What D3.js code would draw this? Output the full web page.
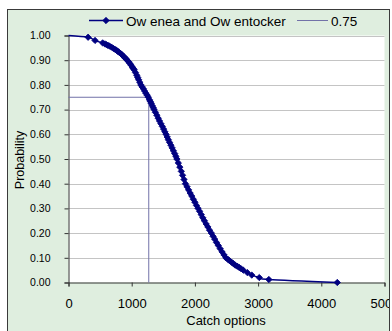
<!DOCTYPE html>
<html><head><meta charset="utf-8">
<script src="https://cdn.jsdelivr.net/npm/d3@7"></script>
<style>
html,body{margin:0;padding:0;background:#fff;}
svg{display:block;font-family:"Liberation Sans",Arial,sans-serif;}
</style></head>
<body>
<svg id="c" width="392" height="331"></svg>
<script>
// Data
const seriesName = "Ow enea and Ow entocker";
const refName = "0.75";
const catchOptions = [0,310,420,540,575,600,625,650,680,709,735,760,780,805,830,850,875,900,915,930,950,970,990,1010,1025,1040,1060,1080,1095,1110,1130,1145,1165,1185,1205,1225,1245,1263,1280,1295,1310,1325,1340,1355,1375,1398,1420,1440,1462,1485,1505,1525,1543,1562,1580,1600,1620,1640,1660,1680,1698,1715,1738,1762,1785,1805,1828,1850,1875,1900,1925,1950,1975,2000,2025,2050,2075,2100,2125,2150,2178,2205,2232,2260,2288,2315,2342,2370,2400,2430,2460,2490,2520,2550,2580,2610,2640,2670,2700,2730,2766,2830,2900,3019,3170,4253];
const probability = [1.000,0.993,0.980,0.970,0.966,0.963,0.960,0.957,0.953,0.948,0.944,0.940,0.936,0.931,0.926,0.921,0.915,0.908,0.904,0.900,0.894,0.887,0.880,0.872,0.866,0.861,0.850,0.839,0.830,0.821,0.810,0.800,0.792,0.784,0.775,0.766,0.758,0.750,0.740,0.733,0.725,0.716,0.708,0.700,0.689,0.677,0.665,0.654,0.643,0.632,0.621,0.610,0.600,0.589,0.578,0.567,0.556,0.545,0.533,0.522,0.511,0.500,0.484,0.467,0.450,0.434,0.417,0.400,0.388,0.375,0.362,0.350,0.337,0.325,0.312,0.300,0.288,0.275,0.262,0.250,0.237,0.225,0.212,0.200,0.187,0.175,0.162,0.150,0.137,0.124,0.112,0.100,0.094,0.088,0.082,0.076,0.070,0.066,0.061,0.056,0.050,0.040,0.030,0.020,0.012,0.000];
const refX = [0,1270,1270];
const refY = [0.75,0.75,0];
const xTicks = [0,1000,2000,3000,4000,5000];
const yTicks = [0,0.1,0.2,0.3,0.4,0.5,0.6,0.7,0.8,0.9,1.0];

const svg = d3.select("#c");
const navy = "#000080";
const refColor = "#7272a8";

// frame
svg.append("defs").append("clipPath").attr("id","fr")
  .append("rect").attr("x",8).attr("y",10).attr("width",381).attr("height",330);
svg.append("rect").attr("x",7.5).attr("y",9.5).attr("width",382).attr("height",330)
  .attr("fill","#dfeedf").attr("stroke","#3a3a3a").attr("stroke-width",1);

const x = d3.scaleLinear().domain([0,5000]).range([68.5,384.5]);
const y = d3.scaleLinear().domain([0,1]).range([282.5,35.5]);

// plot area
svg.append("rect").attr("x",x(0)).attr("y",y(1)).attr("width",x(5000)-x(0)).attr("height",y(0)-y(1)).attr("fill","#fff");

// gridlines
svg.append("g").selectAll("line").data(yTicks.filter(d=>d>0)).join("line")
  .attr("x1",x(0)).attr("x2",x(5000)).attr("y1",d=>Math.round(y(d))+0.5).attr("y2",d=>Math.round(y(d))+0.5)
  .attr("stroke","#c4c4c4").attr("stroke-width",1);

const g = svg.append("g").attr("clip-path","url(#fr)");

// y axis
const ya = g.append("g").attr("transform",`translate(${x(0)},0)`)
  .call(d3.axisLeft(y).tickValues(yTicks).tickFormat(d3.format(".2f")).tickSize(4).tickPadding(14));
ya.select(".domain").attr("stroke","#333");
ya.selectAll(".tick line").attr("stroke","#333");
ya.selectAll("text").attr("font-size","10.5px").attr("fill","#000").attr("font-family","Liberation Sans, Arial, sans-serif");

// x axis
const xa = g.append("g").attr("transform",`translate(0,${y(0)})`)
  .call(d3.axisBottom(x).tickValues(xTicks).tickFormat(d3.format("d")).tickSize(4).tickPadding(12));
xa.select(".domain").attr("stroke","#333");
xa.selectAll(".tick line").attr("stroke","#333");
xa.selectAll("text").attr("font-size","13px").attr("fill","#000").attr("font-family","Liberation Sans, Arial, sans-serif");

// reference line 0.75
const refData = refX.map((v,i)=>[v,refY[i]]);
g.append("path").datum(refData)
  .attr("d",d3.line().x(d=>x(d[0])).y(d=>y(d[1])))
  .attr("fill","none").attr("stroke",refColor).attr("stroke-width",1);

// main series
const data = catchOptions.map((v,i)=>[v,probability[i]]);
g.append("path").datum(data)
  .attr("d",d3.line().x(d=>x(d[0])).y(d=>y(d[1])).curve(d3.curveCardinal.tension(0)))
  .attr("fill","none").attr("stroke",navy).attr("stroke-width",1.5);
const diamond = d3.symbol().type(d3.symbolSquare).size(20);
g.append("g").selectAll("path").data(data.slice(1)).join("path")
  .attr("d",diamond)
  .attr("transform",d=>`translate(${x(d[0])},${y(d[1])}) rotate(45)`)
  .attr("fill",navy).attr("stroke",navy).attr("stroke-width",0.8);

// axis titles
svg.append("text").attr("x",226).attr("y",324.5).attr("text-anchor","middle")
  .attr("font-size","13px").text("Catch options");
svg.append("text").attr("transform","translate(23.5,160) rotate(-90)").attr("text-anchor","middle")
  .attr("font-size","12.5px").text("Probability");

// legend
const ly = 20.5;
svg.append("line").attr("x1",89).attr("x2",123).attr("y1",ly).attr("y2",ly).attr("stroke",navy).attr("stroke-width",1.5);
svg.append("path").attr("d",diamond).attr("transform",`translate(106,${ly}) rotate(45)`).attr("fill",navy).attr("stroke",navy).attr("stroke-width",0.8);
svg.append("text").attr("x",126).attr("y",ly+5).attr("font-size","13.5px").text(seriesName);
svg.append("line").attr("x1",297).attr("x2",328).attr("y1",ly).attr("y2",ly).attr("stroke",refColor).attr("stroke-width",1);
svg.append("text").attr("x",331).attr("y",ly+5).attr("font-size","13.5px").text(refName);
</script>
</body></html>
